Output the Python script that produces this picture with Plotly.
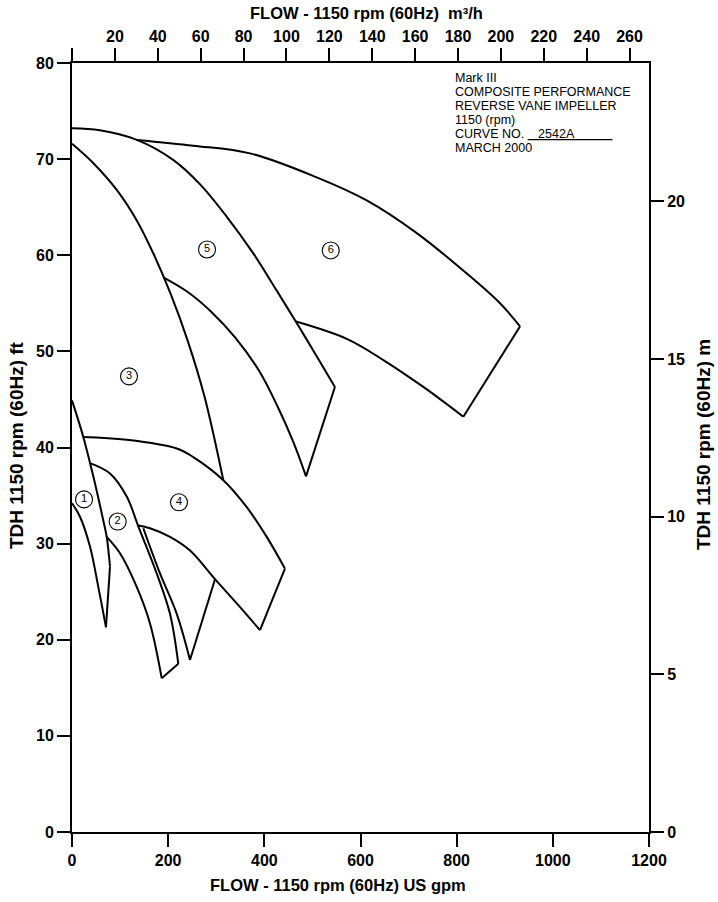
import plotly.graph_objects as go

# ---------------- data (flow in US gpm, head in ft) ----------------
R1_UPPER_GPM = [0, 23.5, 44.3, 65.1, 72.2, 79.0]
R1_UPPER_FT = [44.9, 41.1, 37.0, 32.4, 30.7, 27.6]
R1_LOWER_GPM = [0, 16.6, 37.4, 54.7, 70.7]
R1_LOWER_FT = [34.2, 32.8, 29.7, 25.5, 21.3]

R2_UPPER_GPM = [36.0, 79.0, 113.8, 137.9, 176.2, 203.8, 221.1]
R2_UPPER_FT = [38.4, 37.3, 34.9, 31.8, 26.9, 22.7, 17.5]
R2_LOWER_GPM = [72.2, 99.8, 134.6, 162.2, 186.6]
R2_LOWER_FT = [30.7, 29.0, 25.5, 21.7, 16.0]

R3_EDGE_GPM = [0, 44, 93, 135, 170, 205, 240, 275, 314.7]
R3_EDGE_FT = [71.6, 69.6, 66.8, 63.6, 60.1, 56.0, 51.2, 45.4, 36.6]

R4_UPPER_GPM = [22.3, 113.8, 217.8, 252.3, 314.7, 363.4, 405.0, 442.9]
R4_UPPER_FT = [41.1, 40.8, 39.9, 39.0, 36.6, 33.8, 30.7, 27.4]
R4_LOWER_GPM = [135.9, 162.2, 203.8, 245.0, 297.4, 345.9, 391.0]
R4_LOWER_FT = [31.9, 31.6, 30.7, 29.3, 26.3, 23.6, 21.0]
R4_LOBE_GPM = [148.3, 183.0, 217.8, 245.4]
R4_LOBE_FT = [31.6, 26.9, 22.7, 17.9]
R4_LOBE_END_GPM = 297.4
R4_LOBE_END_FT = 26.3

R5_TOP_GPM = [0, 58, 135, 211, 266, 322, 377, 426, 474, 516, 546.8]
R5_TOP_FT = [73.2, 73.0, 72.0, 69.9, 67.4, 64.0, 60.2, 56.3, 52.4, 48.9, 46.3]
R5_LOWER_GPM = [189.9, 240, 290, 340, 390, 430, 460, 486.7]
R5_LOWER_FT = [57.7, 56.2, 54.1, 51.4, 47.9, 44.0, 40.6, 37.0]

R6_TOP_GPM = [134.6, 252.3, 370.2, 509.0, 612.9, 717.0, 821.0, 890.2, 931.8]
R6_TOP_FT = [72.0, 71.4, 70.6, 68.1, 65.7, 62.3, 58.1, 55.0, 52.6]
R6_LOWER_GPM = [466.0, 571.4, 647.5, 730.7, 813.9]
R6_LOWER_FT = [53.1, 51.3, 49.1, 46.3, 43.2]

LABEL_GPM = [25.0, 95.0, 118.6, 222.5, 280.8, 538.1]
LABEL_FT = [34.6, 32.3, 47.4, 34.3, 60.6, 60.5]
LABEL_TEXT = ["1", "2", "3", "4", "5", "6"]

X_TICKS_GPM = [0, 200, 400, 600, 800, 1000, 1200]
X_TICKS_M3H = [0, 20, 40, 60, 80, 100, 120, 140, 160, 180, 200, 220, 240, 260]
Y_TICKS_FT = [0, 10, 20, 30, 40, 50, 60, 70, 80]
Y_TICKS_M = [0, 5, 10, 15, 20]

INFO_LINES = [
    "Mark III",
    "COMPOSITE PERFORMANCE",
    "REVERSE VANE IMPELLER",
    "1150 (rpm)",
    "CURVE NO. <u>\u00a0\u00a0\u00a02542A\u00a0\u00a0\u00a0\u00a0\u00a0\u00a0\u00a0\u00a0\u00a0\u00a0\u00a0</u>",
    "MARCH 2000",
]

GPM_PER_M3H = 4.46   # scale of the top axis as drawn
FT_PER_M = 3.2808

# ---------------- figure ----------------
W, H = 718, 902
ML, MR, MT, MB = 72, 69, 63, 70
PW, PH = W - ML - MR, H - MT - MB

LINE = dict(color="black", width=2)
fig = go.Figure()

curves = [
    (R1_UPPER_GPM, R1_UPPER_FT), (R1_LOWER_GPM, R1_LOWER_FT),
    (R2_UPPER_GPM, R2_UPPER_FT), (R2_LOWER_GPM, R2_LOWER_FT),
    (R3_EDGE_GPM, R3_EDGE_FT),
    (R4_UPPER_GPM, R4_UPPER_FT), (R4_LOWER_GPM, R4_LOWER_FT), (R4_LOBE_GPM, R4_LOBE_FT),
    (R5_TOP_GPM, R5_TOP_FT), (R5_LOWER_GPM, R5_LOWER_FT),
    (R6_TOP_GPM, R6_TOP_FT), (R6_LOWER_GPM, R6_LOWER_FT),
]
for gx, gy in curves:
    fig.add_trace(go.Scatter(x=gx, y=gy, mode="lines",
                             line=dict(color="black", width=2, shape="spline", smoothing=1.0),
                             hoverinfo="skip", showlegend=False))

# straight closing edges between curve ends
edges = [
    ((R1_UPPER_GPM[-1], R1_UPPER_FT[-1]), (R1_LOWER_GPM[-1], R1_LOWER_FT[-1])),
    ((R2_UPPER_GPM[-1], R2_UPPER_FT[-1]), (R2_LOWER_GPM[-1], R2_LOWER_FT[-1])),
    ((R4_UPPER_GPM[-1], R4_UPPER_FT[-1]), (R4_LOWER_GPM[-1], R4_LOWER_FT[-1])),
    ((R4_LOBE_GPM[-1], R4_LOBE_FT[-1]), (R4_LOBE_END_GPM, R4_LOBE_END_FT)),
    ((R5_TOP_GPM[-1], R5_TOP_FT[-1]), (R5_LOWER_GPM[-1], R5_LOWER_FT[-1])),
    ((R6_TOP_GPM[-1], R6_TOP_FT[-1]), (R6_LOWER_GPM[-1], R6_LOWER_FT[-1])),
]
for a, b in edges:
    fig.add_trace(go.Scatter(x=[a[0], b[0]], y=[a[1], b[1]], mode="lines", line=LINE,
                             hoverinfo="skip", showlegend=False))

# circled region numbers
fig.add_trace(go.Scatter(
    x=LABEL_GPM, y=LABEL_FT, mode="markers+text", text=LABEL_TEXT,
    textposition="middle center",
    textfont=dict(family="Liberation Sans, Arial, sans-serif", size=11, color="black"),
    marker=dict(symbol="circle-open", size=17, color="black", line=dict(width=1.1, color="black")),
    hoverinfo="skip", showlegend=False))

# helper trace for secondary axes
fig.add_trace(go.Scatter(x=[None], y=[None], xaxis="x2", yaxis="y2", mode="markers",
                         hoverinfo="skip", showlegend=False))

FAM = "Liberation Sans, Arial, Helvetica, sans-serif"
TICKFONT = dict(family=FAM, size=16, color="black", weight="bold")
HTITLEFONT = dict(family=FAM, size=16.5, color="black", weight="bold")
VTITLEFONT = dict(family=FAM, size=19, color="black", weight="bold")

axis_common = dict(showgrid=False, zeroline=False, showline=True, linecolor="black", linewidth=2,
                   ticks="outside", ticklen=13, tickwidth=2, tickcolor="black", tickfont=TICKFONT)

fig.update_layout(
    width=W, height=H,
    margin=dict(l=ML, r=MR, t=MT, b=MB, pad=0),
    paper_bgcolor="white", plot_bgcolor="white",
    xaxis=dict(range=[0, 1200], tickvals=X_TICKS_GPM, ticktext=[str(v) for v in X_TICKS_GPM],
               **axis_common),
    xaxis2=dict(range=[0, 1200 / GPM_PER_M3H], overlaying="x", side="top", anchor="y",
                tickvals=X_TICKS_M3H, ticktext=["" if v == 0 else str(v) for v in X_TICKS_M3H],
                **axis_common),
    yaxis=dict(range=[0, 80], tickvals=Y_TICKS_FT, ticktext=[str(v) for v in Y_TICKS_FT],
               **axis_common),
    yaxis2=dict(range=[0, 80 / FT_PER_M], overlaying="y", side="right", anchor="x",
                tickvals=Y_TICKS_M, ticktext=[str(v) for v in Y_TICKS_M], **axis_common),
)


def px_x(px):
    return (px - ML) / PW


def px_y(py):
    return (H - MB - py) / PH


annotations = [
    dict(text="FLOW - 1150 rpm (60Hz)\u00a0\u00a0m³/h", x=px_x(366), y=px_y(13), xref="paper", yref="paper",
         xanchor="center", yanchor="middle", showarrow=False, font=HTITLEFONT),
    dict(text="FLOW - 1150 rpm (60Hz) US gpm", x=px_x(338), y=px_y(885), xref="paper", yref="paper",
         xanchor="center", yanchor="middle", showarrow=False, font=HTITLEFONT),
    dict(text="TDH 1150 rpm (60Hz) ft", x=px_x(16), y=px_y(445), xref="paper", yref="paper",
         xanchor="center", yanchor="middle", textangle=-90, showarrow=False, font=VTITLEFONT),
    dict(text="TDH 1150 rpm (60Hz) m", x=px_x(703), y=px_y(445), xref="paper", yref="paper",
         xanchor="center", yanchor="middle", textangle=-90, showarrow=False, font=VTITLEFONT),
]
INFO_TOP_PX, INFO_STEP_PX, INFO_LEFT_PX = 78, 14.0, 453
for i, line in enumerate(INFO_LINES):
    annotations.append(dict(text=line, x=px_x(INFO_LEFT_PX), y=px_y(INFO_TOP_PX + i * INFO_STEP_PX),
                            xref="paper", yref="paper", xanchor="left", yanchor="middle", align="left",
                            showarrow=False,
                            font=dict(family="Liberation Sans, Arial, sans-serif", size=12.5, color="black")))
fig.update_layout(annotations=annotations)

fig.write_html("out.html")
